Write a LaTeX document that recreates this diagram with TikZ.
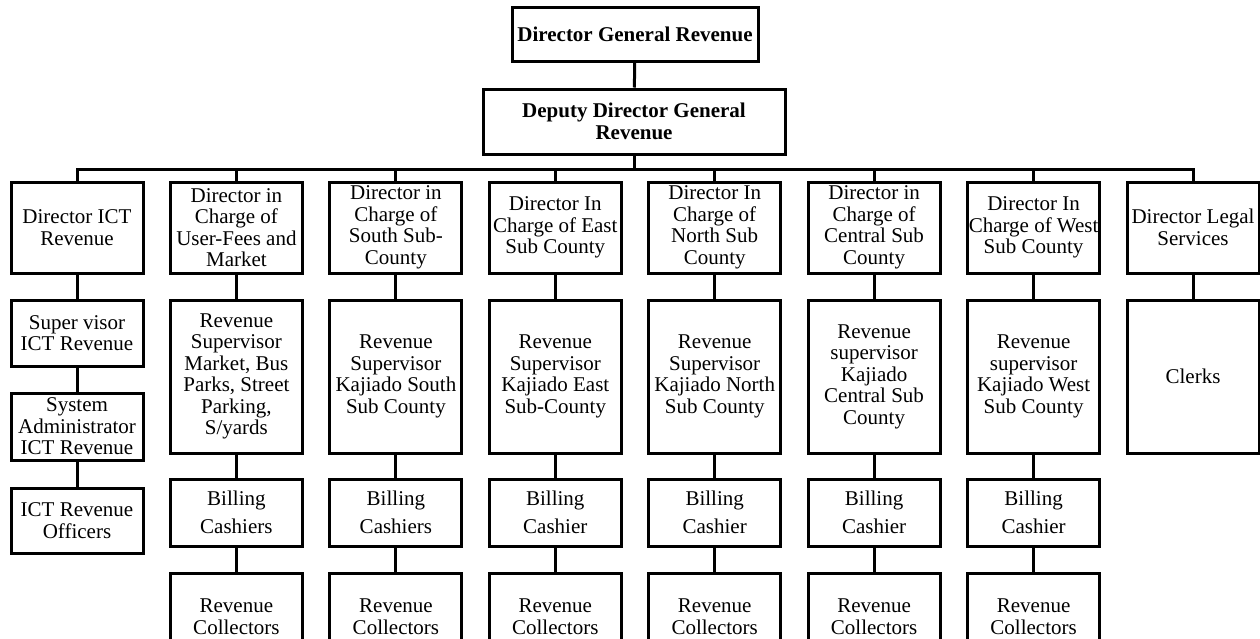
\documentclass[tikz,border=0pt]{standalone}
\usepackage{fontspec}
\setmainfont{Liberation Serif}
\begin{document}
\begin{tikzpicture}[x=1pt,y=-1pt,
  box/.style={draw=black,line width=3pt,rectangle,inner sep=0pt,align=center,
    minimum width=132pt,font=\fontsize{21}{21.5}\selectfont},
  bbox/.style={box,font=\fontsize{21}{21.5}\selectfont\bfseries},
  conn/.style={line width=3pt}]
\useasboundingbox (0,0) rectangle (1260,638);
\def\cA{77}\def\cB{236.4}\def\cC{395.9}\def\cD{555.3}\def\cE{714.7}\def\cF{874.1}\def\cG{1033.6}\def\cH{1193}
% top
\node[bbox,minimum width=246pt,minimum height=54pt] (dg) at (635,34) {Director General Revenue};
\node[bbox,minimum width=302pt,minimum height=65pt] (ddg) at (634,121.5) {Deputy Director General\\Revenue};
\coordinate (bus) at (634,169);
% level 1
\foreach \n/\x/\t in {a/\cA/{Director ICT\\Revenue},
  b/\cB/{Director in\\Charge of\\User-Fees and\\Market},
  c/\cC/{Director in\\Charge of\\South Sub-\\County},
  d/\cD/{Director In\\Charge of East\\Sub County},
  e/\cE/{Director In\\Charge of\\North Sub\\County},
  f/\cF/{Director in\\Charge of\\Central Sub\\County},
  g/\cG/{Director In\\Charge of West\\Sub County},
  h/\cH/{Director Legal\\Services}}
  \node[box,minimum height=91pt] (\n1) at (\x,227.5) {\t};
% ICT column
\node[box,minimum height=66pt] (a2) at (\cA,333) {Super visor\\ICT Revenue};
\node[box,minimum height=67pt] (a3) at (\cA,426.5) {System\\Administrator\\ICT Revenue};
\node[box,minimum height=65pt] (a4) at (\cA,520.5) {ICT Revenue\\Officers};
% supervisors
\foreach \n/\x/\t in {b/\cB/{Revenue\\Supervisor\\Market, Bus\\Parks, Street\\Parking,\\S/yards},
  c/\cC/{Revenue\\Supervisor\\Kajiado South\\Sub County},
  d/\cD/{Revenue\\Supervisor\\Kajiado East\\Sub-County},
  e/\cE/{Revenue\\Supervisor\\Kajiado North\\Sub County},
  f/\cF/{Revenue\\supervisor\\Kajiado\\Central Sub\\County},
  g/\cG/{Revenue\\supervisor\\Kajiado West\\Sub County},
  h/\cH/{Clerks}}
  \node[box,minimum height=153pt] (\n2) at (\x,376.5) {\t};
% billing and collectors
\foreach \n/\x/\t in {b/\cB/Cashiers,c/\cC/Cashiers,d/\cD/Cashier,e/\cE/Cashier,f/\cF/Cashier,g/\cG/Cashier}{
  \node[box,minimum height=67pt] (\n3) at (\x,512.5) {Billing\\[7pt]\t};
  \node[box,minimum height=87pt] (\n4) at (\x,616.5) {Revenue\\Collectors};
}
% connectors
\draw[conn] (dg) -- (ddg);
\draw[conn] (ddg.south) -- (ddg.south |- bus);
\draw[conn,line cap=rect] (a1.north |- bus) -- (h1.north |- bus);
\foreach \n in {a,b,c,d,e,f,g,h}{
  \draw[conn] (\n1.north) -- (\n1.north |- bus);
  \draw[conn] (\n1) -- (\n2);
}
\draw[conn] (a2) -- (a3);
\draw[conn] (a3) -- (a4);
\foreach \n in {b,c,d,e,f,g}{
  \draw[conn] (\n2) -- (\n3);
  \draw[conn] (\n3) -- (\n4);
}
\end{tikzpicture}
\end{document}
